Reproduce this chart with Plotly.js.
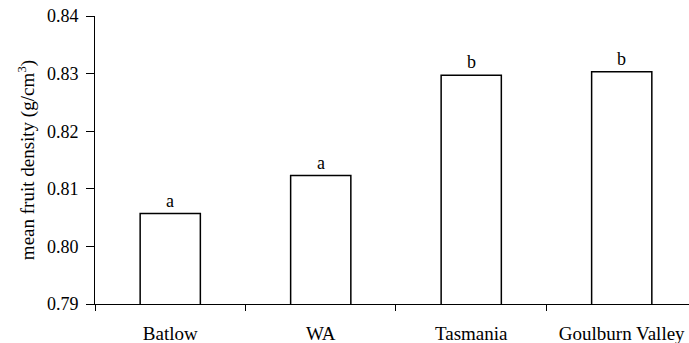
<!DOCTYPE html>
<html>
<head>
<meta charset="utf-8">
<script src="https://cdn.plot.ly/plotly-3.0.1.min.js"></script>
<style>
  html, body { margin: 0; padding: 0; background: #fff; }
  #chart { width: 689px; height: 343px; }
</style>
</head>
<body>
<div id="chart"></div>
<script>
// Mean fruit density by growing region, with significance groupings
const regions = ["Batlow", "WA", "Tasmania", "Goulburn Valley"];
const density = [0.8057, 0.8123, 0.8297, 0.8303];
const groups = ["a", "a", "b", "b"];
const yTicks = [0.79, 0.80, 0.81, 0.82, 0.83, 0.84];
const yTickText = ["0.79", "0.80", "0.81", "0.82", "0.83", "0.84"];

const serif = "'Liberation Serif', 'Times New Roman', serif";

const trace = {
  type: "bar",
  x: regions,
  y: density,
  base: 0,
  width: 0.4,
  marker: { color: "#ffffff", line: { color: "#000000", width: 1.5 } },
  hoverinfo: "skip"
};

const annotations = regions.map((r, i) => ({
  x: r,
  y: density[i],
  text: groups[i],
  showarrow: false,
  yanchor: "bottom",
  yshift: 1,
  font: { family: serif, size: 18, color: "#000" }
}));

const layout = {
  width: 689,
  height: 343,
  margin: { l: 95, r: 0, t: 16, b: 39, pad: 0 },
  paper_bgcolor: "#ffffff",
  plot_bgcolor: "#ffffff",
  showlegend: false,
  font: { family: serif, size: 18, color: "#000" },
  xaxis: {
    type: "category",
    range: [-0.5, 3.447],
    showline: true,
    linecolor: "#000",
    linewidth: 1,
    showgrid: false,
    zeroline: false,
    ticks: "outside",
    tickson: "boundaries",
    ticklen: 6,
    tickcolor: "#000",
    tickwidth: 1,
    ticklabelstandoff: 12,
    tickfont: { family: serif, size: 19, color: "#000" },
    fixedrange: true
  },
  yaxis: {
    range: [0.79, 0.84],
    tickvals: yTicks,
    ticktext: yTickText,
    showline: true,
    linecolor: "#000",
    linewidth: 1,
    showgrid: false,
    zeroline: false,
    ticks: "outside",
    ticklen: 8,
    tickcolor: "#000",
    tickwidth: 1,
    ticklabelstandoff: 4,
    tickfont: { family: serif, size: 18, color: "#000" },
    title: {
      text: "mean fruit density (g/cm<sup>3</sup>)",
      font: { family: serif, size: 19, color: "#000" },
      standoff: 7
    },
    fixedrange: true
  },
  annotations: annotations
};

Plotly.newPlot("chart", [trace], layout, { displayModeBar: false, staticPlot: true });
</script>
</body>
</html>
